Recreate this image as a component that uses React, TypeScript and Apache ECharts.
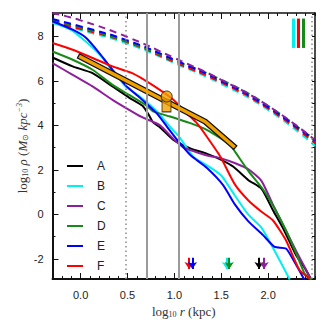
import React, { useEffect, useRef } from 'react';
import * as echarts from 'echarts';

// ---- data ----
const seriesNames = ['A', 'B', 'C', 'D', 'E', 'F'];
const seriesColors = ['#000000', '#00f0f0', '#8e1f9c', '#178a17', '#0000ff', '#ff0000'];

const profileA = [[-0.3, 7.05], [-0.085, 6.65], [0.127, 6.35], [0.34, 5.75], [0.517, 5.25], [0.66, 4.88], [0.73, 4.45], [0.77, 4.15], [0.85, 3.9], [0.99, 3.35], [1.17, 2.97], [1.35, 2.72], [1.5, 2.45], [1.63, 2.14], [1.79, 1.54], [1.93, 1.15], [2.05, 0.2], [2.17, -0.71], [2.3, -1.85], [2.39, -2.4], [2.46, -2.93]];
const profileB = [[-0.3, 8.62], [-0.085, 8.25], [0.2, 7.2], [0.34, 6.45], [0.48, 5.75], [0.63, 5.3], [0.81, 4.65], [0.95, 3.95], [1.05, 3.5], [1.2, 2.6], [1.35, 2.2], [1.5, 1.75], [1.645, 0.85], [1.787, 0.0], [1.93, -0.6], [2.09, -1.8], [2.23, -2.92]];
const profileC = [[-0.3, 6.8], [-0.085, 6.27], [0.127, 5.75], [0.34, 5.15], [0.517, 4.7], [0.65, 4.38], [0.75, 4.2], [0.85, 4.0], [1.0, 3.35], [1.1, 3.0], [1.2, 2.85], [1.35, 2.65], [1.5, 2.52], [1.65, 2.3], [1.79, 2.03], [1.93, 1.5], [2.05, 0.45], [2.17, -0.56], [2.3, -1.65], [2.46, -2.93]];
const profileD = [[-0.3, 7.32], [-0.085, 6.95], [0.127, 6.5], [0.34, 5.82], [0.517, 5.37], [0.7, 4.9], [0.78, 4.62], [0.955, 4.4], [1.17, 4.1], [1.345, 3.8], [1.5, 3.4], [1.6, 3.1], [1.65, 2.8], [1.79, 1.95], [1.95, 1.1], [2.07, 0.27], [2.19, -0.71], [2.3, -1.76], [2.39, -2.66], [2.46, -2.93]];
const profileE = [[-0.3, 8.68], [-0.085, 8.3], [0.06, 7.93], [0.2, 7.25], [0.34, 6.5], [0.48, 5.8], [0.63, 5.25], [0.81, 4.55], [0.92, 3.95], [1.03, 3.35], [1.17, 2.67], [1.345, 2.1], [1.52, 1.32], [1.645, 0.45], [1.787, -0.3], [1.946, -0.93], [2.07, -1.46], [2.19, -1.53], [2.28, -2.13], [2.39, -2.96]];
const profileF = [[-0.3, 7.7], [-0.085, 7.4], [0.127, 7.03], [0.34, 6.65], [0.55, 6.35], [0.764, 5.82], [0.99, 5.15], [1.13, 4.55], [1.24, 4.1], [1.345, 3.5], [1.49, 2.6], [1.645, 1.35], [1.787, 0.64], [1.93, 0.12], [2.05, -0.26], [2.19, -1.16], [2.335, -2.5], [2.44, -2.87]];
const solidProfiles = [profileA, profileB, profileC, profileD, profileE, profileF];

const nfwA = [[-0.3, 8.7], [0, 8.4], [0.5, 7.78], [1.0, 6.9], [1.5, 5.95], [2.0, 4.78], [2.5, 3.35]];
const nfwB = [[-0.3, 8.6], [0, 8.28], [0.5, 7.67], [1.0, 6.8], [1.5, 5.86], [2.0, 4.7], [2.5, 3.08]];
const nfwC = [[-0.3, 9.05], [0, 8.72], [0.5, 7.97], [1.0, 7.03], [1.5, 6.05], [2.0, 4.88], [2.5, 3.35]];
const nfwD = [[-0.3, 8.7], [0, 8.4], [0.5, 7.75], [1.0, 6.92], [1.5, 6.05], [2.0, 4.88], [2.5, 3.3]];
const nfwE = [[-0.3, 8.78], [0, 8.45], [0.5, 7.82], [1.0, 6.95], [1.5, 6.0], [2.0, 4.82], [2.5, 3.3]];
const nfwF = [[-0.3, 8.65], [0, 8.33], [0.5, 7.73], [1.0, 6.84], [1.5, 5.93], [2.0, 4.76], [2.5, 3.2]];
const nfwProfiles = [nfwA, nfwB, nfwC, nfwD, nfwE, nfwF];

const fitLine = [[0.0, 7.07], [1.33, 4.17], [1.63, 3.07]];
const markerHead = [[0.918, 5.3]];
const markerBody = [[0.916, 4.88]];

// arrows: x position, color index
const arrowX = [1.157, 1.192, 1.557, 1.585, 1.903, 1.957];
const arrowColorIdx = [5, 4, 1, 3, 0, 2];
const arrowTop = -1.95;
const arrowTip = -2.45;

// colour bars at top right
const barX = [2.27, 2.32, 2.375];
const barColorIdx = [1, 5, 3];
const barTop = 8.8;
const barBottom = 7.48;

const dottedLinesX = [0.485, 2.46];
const solidLinesX = [0.71, 1.05];

const xLabelValues = [0, 0.5, 1, 1.5, 2];
const xMinorTicks = [-0.3, -0.2, -0.1, 0, 0.1, 0.2, 0.3, 0.4, 0.5, 0.6, 0.7, 0.8, 0.9, 1, 1.1, 1.2, 1.3, 1.4, 1.5, 1.6, 1.7, 1.8, 1.9, 2, 2.1, 2.2, 2.3, 2.4, 2.5];
const yLabelValues = [-2, 0, 2, 4, 6, 8];
const yMinorTicks = [-2, -1, 0, 1, 2, 3, 4, 5, 6, 7, 8, 9];

const xTitle = '{a|log}{s|10} {i|r} {a|(kpc)}';
const yTitle = '{a|log}{s|10} {i|ρ} {a|(}{i|M}{s|⊙} {i|kpc}{p|−3}{a|)}';

const X_MIN = -0.3;
const X_MAX = 2.5;
const Y_MIN = -2.9;
const Y_MAX = 9.05;

const SANS = 'Liberation Sans, Arial, sans-serif';
const SERIF = 'Liberation Serif, Times New Roman, serif';
const ORANGE = '#f0a000';

export default function App() {
  const ref = useRef<HTMLDivElement>(null);

  useEffect(() => {
    if (!ref.current) return;
    const chart = echarts.init(ref.current, undefined, { renderer: 'svg' });

    const baseX = {
      type: 'value', min: X_MIN, max: X_MAX, splitLine: { show: false },
    };
    const baseY = {
      type: 'value', min: Y_MIN, max: Y_MAX, splitLine: { show: false },
    };
    const axisLineDark = { show: true, onZero: false, lineStyle: { color: '#111', width: 2 } };
    const axisLineThin = { show: true, onZero: false, lineStyle: { color: '#111', width: 1.5 } };
    const noLine = { show: false, onZero: false };

    const titleRich = {
      a: { fontFamily: SERIF, fontSize: 13, color: '#333' },
      i: { fontFamily: SERIF, fontSize: 13, fontStyle: 'italic', color: '#333' },
      s: { fontFamily: SERIF, fontSize: 8, color: '#333', padding: [6, 0, 0, 0] },
      p: { fontFamily: SERIF, fontSize: 8, fontStyle: 'italic', color: '#333', padding: [0, 0, 6, 0] },
    };

    const xAxes: any[] = [
      {
        ...baseX, position: 'bottom',
        axisLine: axisLineDark,
        axisTick: { show: true, inside: true, length: 6, customValues: xLabelValues, lineStyle: { color: '#111', width: 1 } },
        axisLabel: {
          customValues: xLabelValues, margin: 10, fontSize: 11, color: '#222', fontFamily: SANS,
          formatter: (v: number) => v.toFixed(1),
        },
        name: xTitle,
        nameLocation: 'middle', nameGap: 25,
        nameTextStyle: { fontFamily: SERIF, fontSize: 13, color: '#333', rich: titleRich },
      },
      {
        ...baseX, position: 'bottom',
        axisLine: noLine,
        axisTick: { show: true, inside: true, length: 3, customValues: xMinorTicks, lineStyle: { color: '#111', width: 1 } },
        axisLabel: { show: false },
      },
      {
        ...baseX, position: 'top',
        axisLine: axisLineThin,
        axisTick: { show: true, inside: true, length: 3, customValues: xMinorTicks, lineStyle: { color: '#111', width: 1 } },
        axisLabel: { show: false },
      },
      {
        ...baseX, position: 'top',
        axisLine: noLine,
        axisTick: { show: true, inside: true, length: 6, customValues: xLabelValues, lineStyle: { color: '#111', width: 1 } },
        axisLabel: { show: false },
      },
    ];

    const yAxes: any[] = [
      {
        ...baseY, position: 'left',
        axisLine: axisLineDark,
        axisTick: { show: true, inside: true, length: 6, customValues: yLabelValues, lineStyle: { color: '#111', width: 1 } },
        axisLabel: { customValues: yLabelValues, margin: 9, fontSize: 11, color: '#222', fontFamily: SANS },
      },
      {
        ...baseY, position: 'left',
        axisLine: noLine,
        axisTick: { show: true, inside: true, length: 3, customValues: yMinorTicks, lineStyle: { color: '#111', width: 1 } },
        axisLabel: { show: false },
      },
      {
        ...baseY, position: 'right',
        axisLine: axisLineThin,
        axisTick: { show: true, inside: true, length: 3, customValues: yMinorTicks, lineStyle: { color: '#111', width: 1 } },
        axisLabel: { show: false },
      },
    ];

    const series: any[] = [];

    // reference vertical lines
    const refLines: any[] = [];
    dottedLinesX.forEach((x) => refLines.push({ xAxis: x, lineStyle: { color: '#8a8a8a', width: 1.5, type: [1.5, 3] } }));
    solidLinesX.forEach((x) => refLines.push({ xAxis: x, lineStyle: { color: '#9a9a9a', width: 2, type: 'solid' } }));
    series.push({
      name: 'refs', type: 'line', data: [], z: 1,
      markLine: { silent: true, symbol: ['none', 'none'], label: { show: false }, data: refLines, animation: false },
    });

    // dashed NFW profiles (A first = bottom)
    const dashOrder = [0, 1, 5, 3, 4, 2];
    dashOrder.forEach((i) => {
      series.push({
        name: seriesNames[i] + '_nfw', type: 'line', data: nfwProfiles[i], smooth: true,
        showSymbol: false, symbol: 'none', z: 2,
        lineStyle: { color: seriesColors[i], width: 2, type: [7, 5] },
      });
    });

    // solid profiles
    seriesNames.forEach((n, i) => {
      series.push({
        name: n, type: 'line', data: solidProfiles[i], smooth: 0.2,
        showSymbol: false, symbol: 'none', z: 3,
        itemStyle: { color: seriesColors[i] },
        lineStyle: { color: seriesColors[i], width: 2 },
      });
    });

    // fit line (black outline + orange)
    series.push({
      name: 'fitOutline', type: 'line', data: fitLine, showSymbol: false, symbol: 'none', z: 4,
      lineStyle: { color: '#111', width: 6, cap: 'square', join: 'miter' },
    });
    series.push({
      name: 'fit', type: 'line', data: fitLine, showSymbol: false, symbol: 'none', z: 5,
      lineStyle: { color: ORANGE, width: 3.5, cap: 'square', join: 'miter' },
    });
    series.push({
      name: 'markerBody', type: 'scatter', data: markerBody, z: 6,
      symbol: 'rect', symbolSize: [9, 12],
      itemStyle: { color: ORANGE, borderColor: '#111', borderWidth: 1 },
    });
    series.push({
      name: 'markerHead', type: 'scatter', data: markerHead, z: 7,
      symbol: 'circle', symbolSize: 11,
      itemStyle: { color: ORANGE, borderColor: '#111', borderWidth: 1 },
    });

    // arrows and colour bars
    const arrows = arrowX.map((x, k) => [
      { coord: [x, arrowTop], lineStyle: { color: seriesColors[arrowColorIdx[k]], width: 2, type: 'solid' }, itemStyle: { color: seriesColors[arrowColorIdx[k]] } },
      { coord: [x, arrowTip] },
    ]);
    series.push({
      name: 'arrows', type: 'line', data: [], z: 7,
      markLine: { silent: true, symbol: ['none', 'arrow'], symbolSize: [7, 7], label: { show: false }, data: arrows, animation: false },
    });
    const bars = barX.map((x, k) => [
      { coord: [x, barTop], lineStyle: { color: seriesColors[barColorIdx[k]], width: 3, type: 'solid' } },
      { coord: [x, barBottom] },
    ]);
    series.push({
      name: 'bars', type: 'line', data: [], z: 7,
      markLine: { silent: true, symbol: ['none', 'none'], label: { show: false }, data: bars, animation: false },
    });

    chart.setOption({
      animation: false,
      backgroundColor: '#ffffff',
      grid: { left: 52.5, right: 15, top: 13, bottom: 51, containLabel: false },
      xAxis: xAxes,
      yAxis: yAxes,
      legend: {
        data: seriesNames.map((n) => ({ name: n, icon: 'rect' })),
        orient: 'vertical',
        left: 67, top: 159,
        itemWidth: 16, itemHeight: 2, itemGap: 6,
        padding: 0,
        textStyle: { fontFamily: SANS, fontSize: 12, color: '#222', padding: [0, 0, 0, 9], lineHeight: 14, height: 14 },
      },
      graphic: [
        {
          type: 'text', x: 22, y: 146, rotation: Math.PI / 2, silent: true,
          style: {
            text: yTitle, rich: titleRich, fontFamily: SERIF, fontSize: 13, fill: '#333',
            align: 'center', verticalAlign: 'middle',
          },
        },
      ],
      series,
    });

    return () => chart.dispose();
  }, []);

  return (
    <div
      ref={ref}
      style={{ position: 'absolute', left: 0, top: 0, width: 330, height: 330 }}
    />
  );
}
